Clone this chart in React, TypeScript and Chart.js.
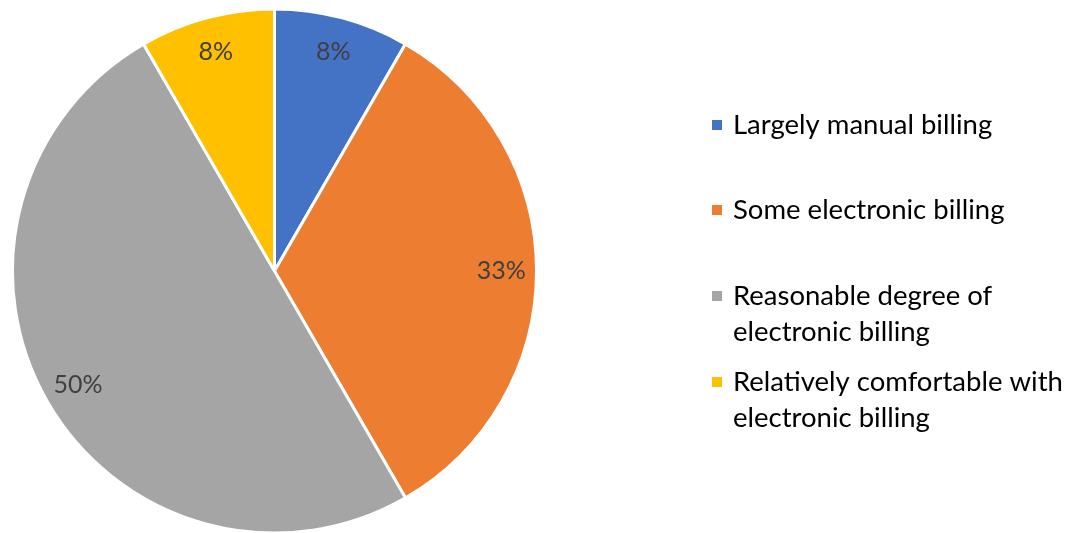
import React, { useEffect, useRef } from "react";
import { Chart, registerables } from "chart.js";

Chart.register(...registerables);

const categories = [
  "Largely manual billing",
  "Some electronic billing",
  "Reasonable degree of electronic billing",
  "Relatively comfortable with electronic billing",
];
const legendLines = [
  ["Largely manual billing"],
  ["Some electronic billing"],
  ["Reasonable degree of", "electronic billing"],
  ["Relatively comfortable with", "electronic billing"],
];
const values = [8.33, 33.33, 50, 8.33];
const percentLabels = ["8%", "33%", "50%", "8%"];
const colors = ["#4472C4", "#ED7D31", "#A5A5A5", "#FFC000"];

const FONT = "Lato, 'Open Sans', sans-serif";

const labelPlugin = {
  id: "pieLabels",
  afterDatasetsDraw(chart: any) {
    const ctx = chart.ctx;
    const meta = chart.getDatasetMeta(0);
    ctx.save();
    ctx.font = `25px ${FONT}`;
    ctx.fillStyle = "#404040";
    ctx.textAlign = "center";
    ctx.textBaseline = "middle";
    meta.data.forEach((arc: any, i: number) => {
      const { x, y, startAngle, endAngle, outerRadius } = arc.getProps(
        ["x", "y", "startAngle", "endAngle", "outerRadius"],
        true
      );
      const mid = (startAngle + endAngle) / 2;
      const r = outerRadius * 0.866;
      ctx.fillText(percentLabels[i], x + Math.cos(mid) * r, y + Math.sin(mid) * r);
    });
    ctx.restore();
  },
};

const legendPlugin = {
  id: "customLegend",
  afterDraw(chart: any) {
    const ctx = chart.ctx;
    ctx.save();
    const tops = [125, 210, 296, 382];
    const lineGap = 36;
    ctx.font = `27.5px ${FONT}`;
    ctx.textBaseline = "middle";
    ctx.textAlign = "left";
    legendLines.forEach((lines, i) => {
      ctx.fillStyle = colors[i];
      ctx.fillRect(712, tops[i] - 5, 10, 10);
      ctx.fillStyle = "#000000";
      lines.forEach((ln, j) => {
        ctx.fillText(ln, 733, tops[i] + j * lineGap);
      });
    });
    ctx.restore();
  },
};

export default function App() {
  const ref = useRef<HTMLCanvasElement>(null);
  useEffect(() => {
    document.body.style.margin = "0";
    const chart = new Chart(ref.current!, {
      type: "pie",
      data: {
        labels: categories,
        datasets: [
          {
            data: values,
            backgroundColor: colors,
            borderColor: "#ffffff",
            borderWidth: 3,
          },
        ],
      },
      options: {
        animation: false,
        responsive: false,
        radius: 262,
        layout: { padding: { left: 13, top: 9, right: 532, bottom: 0 } },
        plugins: { legend: { display: false }, tooltip: { enabled: false } },
      } as any,
      plugins: [labelPlugin, legendPlugin],
    });
    return () => chart.destroy();
  }, []);
  return (
    <div style={{ position: "absolute", left: 0, top: 0, width: 1068, height: 533, background: "#fff" }}>
      <canvas ref={ref} width={1068} height={533} />
    </div>
  );
}
